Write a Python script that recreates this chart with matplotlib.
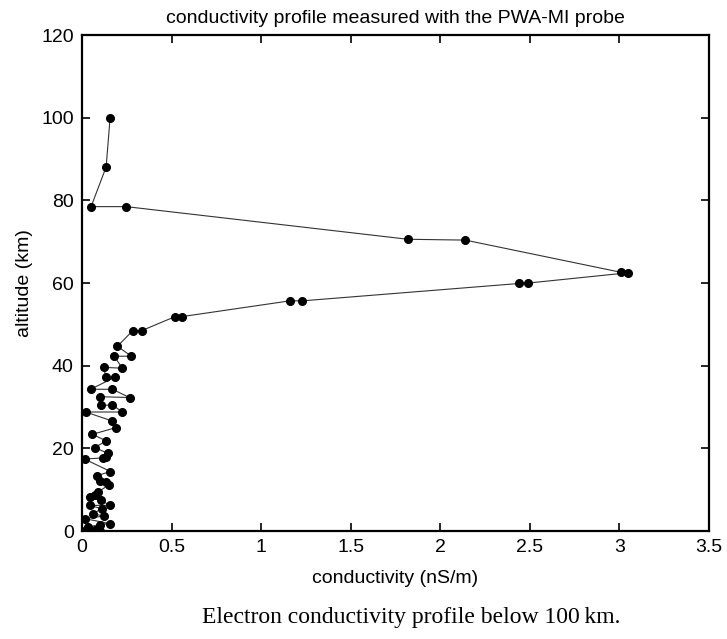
import matplotlib
matplotlib.use("Agg")
import matplotlib.pyplot as plt
from matplotlib.ticker import FormatStrFormatter

# conductivity (nS/m) and altitude (km) top to bottom
conductivity = [0.156, 0.134, 0.05, 0.246, 1.82, 2.14, 3.01, 3.05, 2.49, 2.44,
                1.23, 1.16, 0.56, 0.52, 0.333, 0.283, 0.197, 0.275, 0.178, 0.225,
                0.122, 0.131, 0.182, 0.047, 0.169, 0.265, 0.102, 0.107, 0.169, 0.225,
                0.02, 0.169, 0.187, 0.057, 0.135, 0.07, 0.144, 0.135, 0.116, 0.014,
                0.158, 0.083, 0.102, 0.135, 0.15, 0.088, 0.07, 0.042, 0.107, 0.154,
                0.042, 0.11, 0.06, 0.12, 0.014, 0.154, 0.1, 0.03, 0.07, 0.1, 0.02]
altitude = [100.0, 88.1, 78.5, 78.5, 70.6, 70.4, 62.6, 62.5, 60.0, 59.9,
            55.7, 55.7, 51.9, 51.9, 48.5, 48.5, 44.7, 42.3, 42.3, 39.4,
            39.6, 37.2, 37.2, 34.3, 34.3, 32.3, 32.5, 30.4, 30.5, 28.8,
            28.8, 26.6, 25.0, 23.4, 21.8, 20.2, 18.8, 18.0, 17.7, 17.4,
            14.4, 13.4, 12.2, 11.8, 11.2, 9.4, 8.6, 8.2, 7.4, 6.2,
            6.2, 5.4, 4.2, 3.6, 3.0, 1.8, 1.5, 1.0, 0.3, 0.0, 0.2]

xticks = [0, 0.5, 1, 1.5, 2, 2.5, 3, 3.5]
yticks = [0, 20, 40, 60, 80, 100, 120]

plt.rcParams['font.family'] = ['Liberation Sans', 'DejaVu Sans']

fig = plt.figure(figsize=(7.27, 6.39), dpi=100)
ax = fig.add_axes([0.113, 0.169, 0.862, 0.776])

ax.plot(conductivity, altitude, color='#333333', lw=0.8,
        marker='o', ms=5.5, mfc='black', mec='black')

ax.set_xlim(0, 3.5)
ax.set_ylim(0, 120)
ax.set_xticks(xticks)
ax.set_yticks(yticks)
ax.xaxis.set_major_formatter(FormatStrFormatter('%g'))
ax.tick_params(direction='in', length=6, width=1.2, top=True, right=True,
               labelsize=14, pad=6)
for s in ax.spines.values():
    s.set_linewidth(1.6)

ax.set_xlabel('conductivity (nS/m)', fontsize=14, labelpad=10)
ax.set_ylabel('altitude (km)', fontsize=14, labelpad=6)
ax.set_title('conductivity profile measured with the PWA-MI probe',
             fontsize=14, pad=9)

fig.text(0.278, 0.034, 'Electron conductivity profile below 100\u2009km.',
         ha='left', va='center', fontsize=17,
         family=['Liberation Serif', 'DejaVu Serif'])

fig.savefig('out.png', dpi=100)
